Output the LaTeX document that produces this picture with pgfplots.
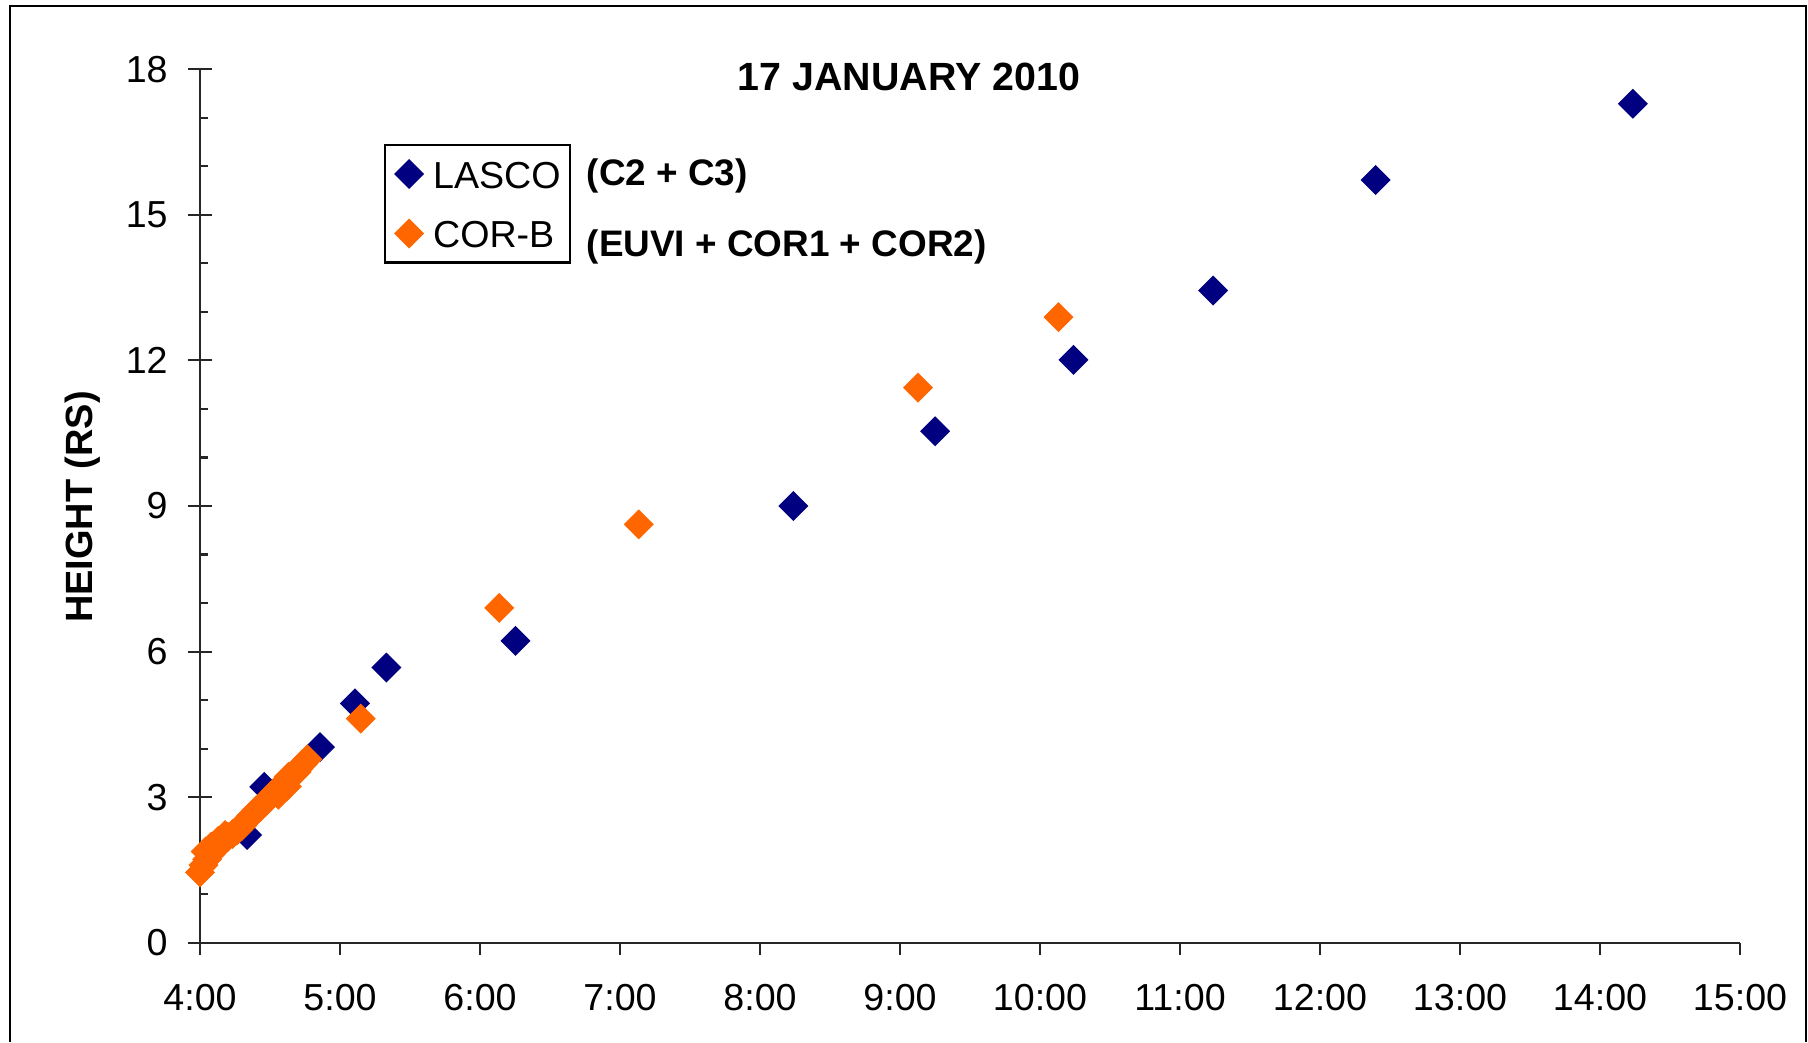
\documentclass[border=0pt]{standalone}
\usepackage{pgfplots}
\pgfplotsset{compat=1.18}
\usepackage{fontspec}
\setmainfont{Liberation Sans}
\definecolor{lasco}{RGB}{0,0,128}
\definecolor{corb}{RGB}{255,102,0}
\pgfdeclareplotmark{sqd}{%
 \pgfpathmoveto{\pgfqpoint{\pgfplotmarksize}{0pt}}%
 \pgfpathlineto{\pgfqpoint{0pt}{\pgfplotmarksize}}%
 \pgfpathlineto{\pgfqpoint{-\pgfplotmarksize}{0pt}}%
 \pgfpathlineto{\pgfqpoint{0pt}{-\pgfplotmarksize}}%
 \pgfpathclose\pgfusepathqfill}
\begin{document}
\begin{tikzpicture}
\useasboundingbox (0,0) rectangle (180.8mm,104.2mm);
\draw[line width=0.6pt] (1mm,0) -- (1mm,103.6mm) -- (180.6mm,103.6mm) -- (180.6mm,0);
\begin{axis}[
 at={(20mm,9.93mm)}, anchor=south west,
 scale only axis, width=154mm, height=87.34mm,
 xmin=4, xmax=15, ymin=0, ymax=18,
 clip=false,
 axis lines=left,
 axis line style={-, line width=0.6pt, black!85},
 every tick/.style={black!85, line width=0.6pt},
 tick align=inside,
 major tick length=1.2mm, minor tick length=0.8mm,
 xtick=\empty,
 extra x ticks={4,5,6,7,8,9,10,11,12,13,14,15},
 extra x tick labels={4:00,5:00,6:00,7:00,8:00,9:00,10:00,11:00,12:00,13:00,14:00,15:00},
 extra x tick style={tick align=outside, xticklabel style={yshift=-1.7mm}},
 ytick={0,3,6,9,12,15,18},
 minor y tick num=2,
 extra y ticks={0,3,6,9,12,15,18},
 extra y tick labels={},
 extra y tick style={tick align=outside},
 yticklabel style={xshift=-2mm},
 /pgf/number format/assume math mode=true,
 tick label style={font=\fontsize{10.7}{12.8}\selectfont, black},
 legend style={at={(0.1195,0.9145)}, anchor=north west, draw=black, line width=0.6pt,
   font=\fontsize{10.7}{12.8}\selectfont, inner xsep=0.9mm, inner ysep=1.4mm,
   row sep=2.95mm, column sep=0.9mm,
   nodes={inner sep=0pt, text height=2.8mm, text depth=0mm, anchor=west}},
 legend cell align=left,
 legend image code/.code={\path[draw=none,fill=none] (0mm,-1.5mm) rectangle (3mm,1.5mm);
   \path[#1,draw=none] plot coordinates {(1.5mm,0mm)};},
]
\addplot[only marks, mark=sqd, mark size=1.5mm, color=lasco] coordinates {
 (4.336,2.22) (4.459,3.21) (4.857,4.03) (5.107,4.93) (5.331,5.67)
 (6.253,6.22) (8.238,9.00) (9.251,10.54) (10.239,12.01) (11.236,13.44)
 (12.397,15.72) (14.234,17.29)
};
\addlegendentry{LASCO}
\addplot[only marks, mark=sqd, mark size=1.5mm, color=corb] coordinates {
 (4.000,1.45) (4.025,1.60) (4.050,1.72) (4.075,1.82) (4.100,1.90)
 (4.040,1.88) (4.080,1.98) (4.130,2.10) (4.180,2.22)
 (4.125,1.98) (4.150,2.05) (4.175,2.12) (4.200,2.18) (4.233,2.24)
 (4.267,2.32) (4.300,2.41) (4.333,2.52) (4.367,2.62) (4.400,2.72)
 (4.433,2.80) (4.467,2.90) (4.500,3.00) (4.533,3.10) (4.567,3.20)
 (4.600,3.30) (4.633,3.42) (4.667,3.48) (4.700,3.58) (4.733,3.68)
 (4.767,3.78) (4.560,3.05) (4.620,3.22) (4.690,3.52)
 (5.148,4.62) (6.138,6.90) (7.134,8.62) (9.128,11.44) (10.132,12.89)
};
\addlegendentry{COR-B}
\end{axis}
\node[anchor=base, font=\fontsize{11.2}{13}\selectfont\bfseries] at (90.9mm,95.1mm) {17 JANUARY 2010};
\node[anchor=base, rotate=90, font=\fontsize{10.8}{13}\selectfont\bfseries] at (9.2mm,53.5mm) {HEIGHT (RS)};
\node[anchor=base west, inner sep=0pt, font=\fontsize{10.5}{13}\selectfont\bfseries] at (58.6mm,85.6mm) {(C2 + C3)};
\node[anchor=base west, inner sep=0pt, font=\fontsize{10.5}{13}\selectfont\bfseries] at (58.6mm,78.5mm) {(EUVI + COR1 + COR2)};
\end{tikzpicture}
\end{document}
